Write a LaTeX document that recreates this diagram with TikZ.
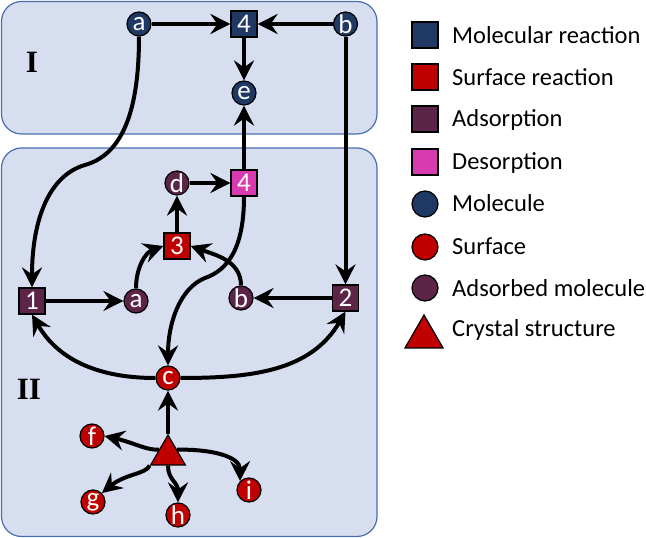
\documentclass[tikz,border=0pt]{standalone}
\usepackage{fontspec}
\newfontfamily\carl{Carlito}
\newfontfamily\tnr{Liberation Serif}
\usetikzlibrary{arrows.meta,shapes.geometric,calc}
\definecolor{boxfill}{HTML}{D6DEF0}
\definecolor{boxline}{HTML}{4A6FAF}
\definecolor{molc}{HTML}{203864}
\definecolor{surfc}{HTML}{C00000}
\definecolor{adsc}{HTML}{5C2548}
\definecolor{desc}{HTML}{D83AB0}
\begin{document}
\begin{tikzpicture}[x=1pt,y=1pt,
  region/.style={draw=boxline, fill=boxfill, line width=1.2pt, rounded corners=20pt},
  nd/.style={draw=black, line width=1.2pt, inner sep=0pt, text=white, font=\carl\fontsize{27}{27}\selectfont},
  circ/.style={nd, circle, minimum size=24pt},
  sqr/.style={nd, rectangle, minimum size=26pt},
  lcirc/.style={nd, circle, minimum size=26pt},
  tri/.style={nd, regular polygon, regular polygon sides=3, fill=surfc},
  conn/.style={line width=4pt, -{Stealth[length=20pt,width=20pt,inset=7pt]}},
  legtext/.style={anchor=base west, inner sep=0pt, font=\carl\fontsize{24.5}{24.5}\selectfont},
  roman/.style={font=\tnr\bfseries\fontsize{31}{31}\selectfont, inner sep=0pt}
]
\useasboundingbox (0,0) rectangle (646,538);
% regions
\path[region] (1.5,404) rectangle (377,536.5);
\path[region] (1.5,1.5) rectangle (377,390);
\node[roman] (lI) at (32,476) {I};
\node[roman] (lII) at (29,149) {II};
% region I nodes
\node[circ, fill=molc] (aT) at (139,514) {a};
\node[sqr, fill=molc] (q4T) at (244,514) {4};
\node[circ, fill=molc] (bT) at (345.5,514) {b};
\node[circ, fill=molc] (e) at (244,445) {e};
% region II nodes
\node[circ, fill=adsc] (d) at (177,355) {d};
\node[sqr, fill=desc] (q4P) at (244,355) {4};
\node[sqr, fill=surfc] (q3) at (177,292) {3};
\node[sqr, fill=adsc] (q1) at (32,237) {1};
\node[circ, fill=adsc] (aL) at (136,237) {a};
\node[circ, fill=adsc] (bL) at (241,240) {b};
\node[sqr, fill=adsc] (q2) at (345.5,240) {2};
\node[circ, fill=surfc] (c) at (168,160) {c};
\node[tri, minimum size=40pt] (tri) at (168,83) {};
\node[circ, fill=surfc] (f) at (92,102) {f};
\node[circ, fill=surfc] (g) at (93,36) {g};
\node[circ, fill=surfc] (h) at (178,23) {h};
\node[circ, fill=surfc] (i) at (249,48) {i};
% connectors
\draw[conn] (aT) -- (q4T);
\draw[conn] (bT) -- (q4T);
\draw[conn] (q4T) -- (e);
\draw[conn] (aT.south) .. controls (139,440) and (128,385) .. (85,373) .. controls (50,363) and (32,320) .. (q1.north);
\draw[conn] (bT) -- (q2);
\draw[conn] (q4P) -- (e);
\draw[conn] (d) -- (q4P);
\draw[conn] (q3) -- (d);
\draw[conn] (q1) -- (aL);
\draw[conn] (q2) -- (bL);
\draw[conn] (aL.north) to[out=90,in=200] (q3.west);
\draw[conn] (bL.north) to[out=90,in=-20] (q3.east);
\draw[conn] (q4P.south) .. controls (244,290) and (228,268) .. (205,260) .. controls (180,250) and (168,215) .. (c.north);
\draw[conn] (c.west) to[out=180,in=-60] (q1.south);
\draw[conn] (c.east) to[out=0,in=-120] (q2.south);
\draw[conn] (tri.corner 1) -- (c.south);
\draw[conn] (tri.side 1) .. controls (145,88) and (135,95) .. (f.east);
\draw[conn] (tri.corner 2) .. controls (146,64) and (125,64) .. (g.45);
\draw[conn] (tri.side 2) .. controls (168,58) and (178,56) .. (h.north);
\draw[conn] (tri.side 3) .. controls (210,89) and (240,82) .. (i.north west);
% legend
\node[sqr, fill=molc] (lg1) at (425,503) {};
\node[sqr, fill=surfc] (lg2) at (425,461) {};
\node[sqr, fill=adsc] (lg3) at (425,419) {};
\node[sqr, fill=desc] (lg4) at (425,376) {};
\node[lcirc, fill=molc] (lg5) at (425,334) {};
\node[lcirc, fill=surfc] (lg6) at (425,291) {};
\node[lcirc, fill=adsc] (lg7) at (425,250) {};
\node[tri, minimum size=44pt] (lg8) at (424,201) {};
\node[legtext] (lt1) at (452,494) {Molecular reaction};
\node[legtext] (lt2) at (452,452) {Surface reaction};
\node[legtext] (lt3) at (452,411) {Adsorption};
\node[legtext] (lt4) at (452,368) {Desorption};
\node[legtext] (lt5) at (452,326) {Molecule};
\node[legtext] (lt6) at (452,283) {Surface};
\node[legtext] (lt7) at (452,241) {Adsorbed molecule};
\node[legtext] (lt8) at (452,201) {Crystal structure};
\end{tikzpicture}
\end{document}
